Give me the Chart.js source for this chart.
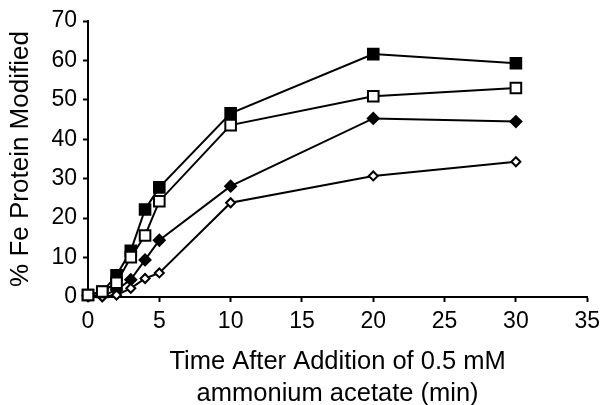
<!DOCTYPE html>
<html>
<head>
<meta charset="utf-8">
<script src="https://cdn.jsdelivr.net/npm/chart.js@4"></script>
<style>
  html, body { margin: 0; padding: 0; background: #fff; }
  #wrap { width: 606px; height: 405px; }
</style>
</head>
<body>
<div id="wrap"><canvas id="out" width="606" height="405"></canvas></div>
<script>
const times = [0, 1, 2, 3, 4, 5, 10, 20, 30];
const filledSquare = [0.5, 1.3, 5.5, 11.7, 22.2, 27.8, 46.6, 61.6, 59.3];
const openSquare = [0.5, 1.4, 3.6, 10.1, 15.6, 24.3, 43.6, 50.9, 53.0];
const filledDiamond = [0.3, 0.3, 1.8, 4.4, 9.4, 14.4, 28.1, 45.3, 44.5];
const openDiamond = [0.2, 0.1, 0.5, 2.2, 4.7, 6.1, 23.9, 30.7, 34.3];

const xTicks = [0, 5, 10, 15, 20, 25, 30, 35];
const yTicks = [0, 10, 20, 30, 40, 50, 60, 70];

function toPoints(values) {
    const result = [];
    for (let i = 0; i < values.length; i++) {
        result[i] = { x: times[i], y: values[i] };
    }
    return result;
}

const font = "'Liberation Sans', Arial, sans-serif";

// lower order is drawn on top (open square sits over the filled one near 0)
function series(label, values, style, filled, radius, order) {
    return {
        label: label,
        data: toPoints(values),
        showLine: true,
        clip: false,
        order: order,
        borderColor: "#000",
        borderWidth: 2,
        pointStyle: style,
        pointRadius: radius,
        pointBorderWidth: 2,
        pointBorderColor: "#000",
        pointBackgroundColor: filled ? "#000" : "#fff"
    };
}

const axisGrid = {
    display: true,
    drawOnChartArea: false,
    drawTicks: true,
    tickLength: 5,
    tickWidth: 2,
    tickColor: "#000"
};

const canvasCtx = document.getElementById("out").getContext("2d");
const chartConfig = {
    type: "scatter",
    data: {
        datasets: [
            series("filled square", filledSquare, "rect", true, 7.5, 1),
            series("open square", openSquare, "rect", false, 7.5, 0),
            series("filled diamond", filledDiamond, "rectRot", true, 5.5, 3),
            series("open diamond", openDiamond, "rectRot", false, 4.5, 2)
        ]
    },
    options: {
        responsive: false,
        animation: false,
        layout: { padding: { top: 21, right: 17, left: 0, bottom: 0 } },
        plugins: { legend: { display: false }, tooltip: { enabled: false } },
        scales: {
            x: {
                type: "linear",
                min: 0,
                max: 35,
                afterBuildTicks: function(axis) {
                    axis.ticks = xTicks.map(v => ({ value: v }));
                },
                afterFit: function(axis) { axis.height = 108; },
                grid: axisGrid,
                border: { color: "#000", width: 2 },
                ticks: { color: "#000", font: { family: font, size: 23 }, padding: 6, maxRotation: 0 },
                title: {
                    display: true,
                    text: ["Time After Addition of 0.5 mM", "ammonium acetate (min)"],
                    color: "#000",
                    font: { family: font, size: 25.5, lineHeight: 1.26 },
                    padding: { top: 0, bottom: -5 }
                }
            },
            y: {
                min: 0,
                max: 70,
                afterBuildTicks: function(axis) {
                    axis.ticks = yTicks.map(v => ({ value: v }));
                },
                afterFit: function(axis) { axis.width = 88; },
                grid: axisGrid,
                border: { color: "#000", width: 2 },
                ticks: { color: "#000", font: { family: font, size: 23 }, padding: 6 },
                title: {
                    display: true,
                    text: "% Fe Protein Modified",
                    color: "#000",
                    font: { family: font, size: 26, lineHeight: 1.2 },
                    padding: { top: 5, bottom: 0 }
                }
            }
        }
    }
};

window.chart = new Chart(canvasCtx, chartConfig);
</script>
</body>
</html>
